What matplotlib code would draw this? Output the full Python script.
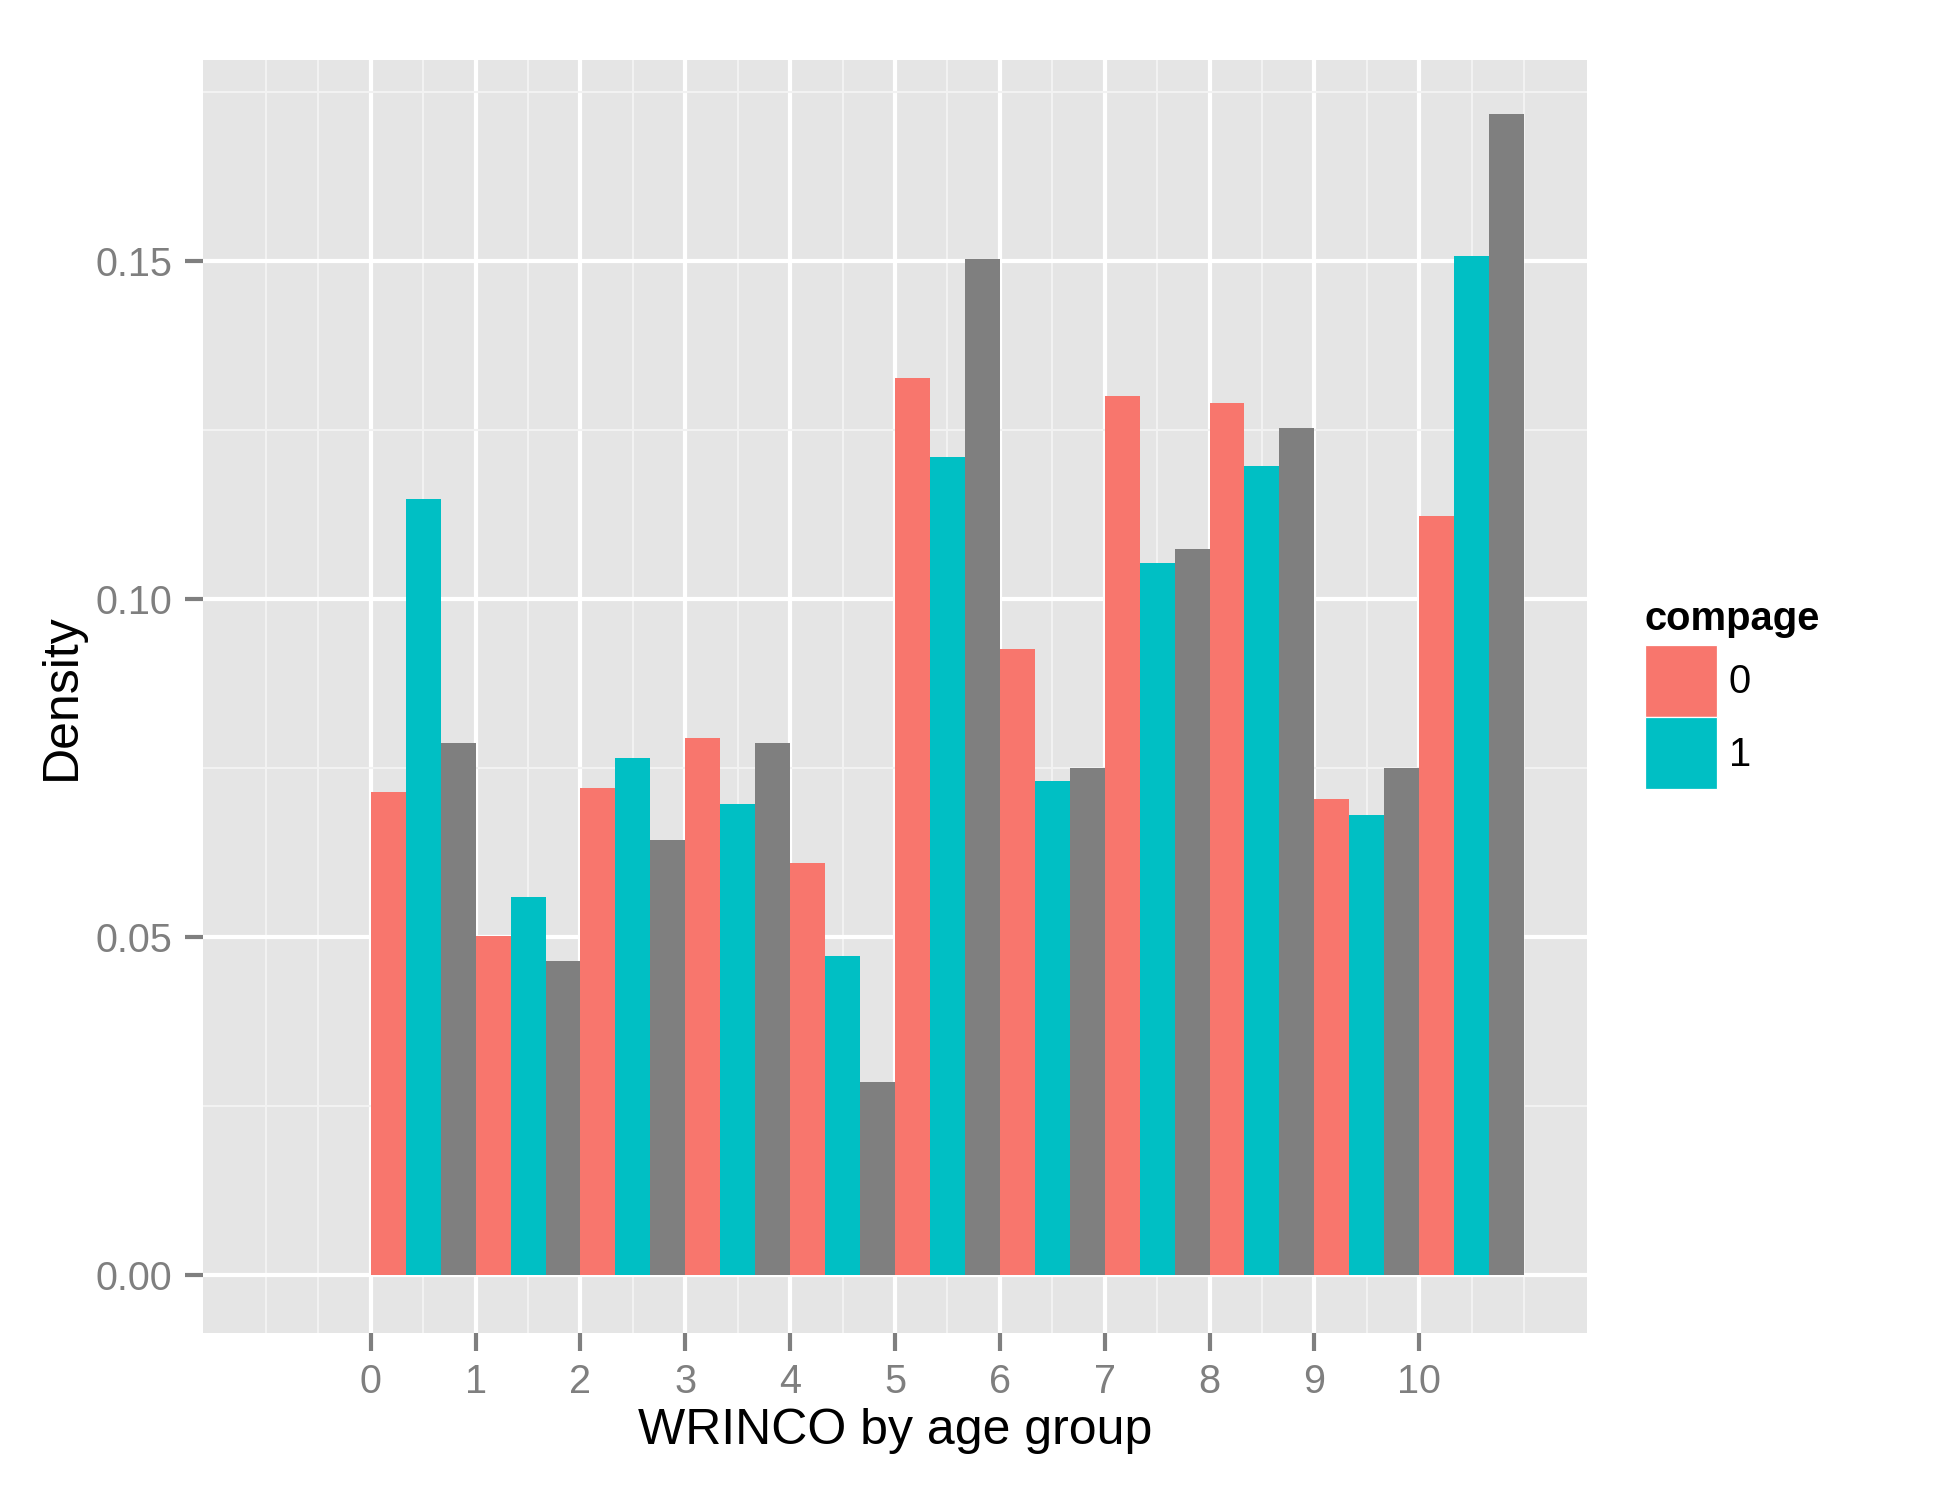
import matplotlib.pyplot as plt
from matplotlib.patches import Patch
import numpy as np

# histogram bins (left edges) and densities
bins = [0, 1, 2, 3, 4, 5, 6, 7, 8, 9, 10]
compage_0 = [0.0715, 0.0502, 0.0721, 0.0794, 0.0610, 0.1327, 0.0926, 0.1300, 0.1289, 0.0704, 0.1123]
compage_1 = [0.1147, 0.0559, 0.0765, 0.0697, 0.0472, 0.1210, 0.0730, 0.1053, 0.1197, 0.0680, 0.1507]
compage_na = [0.0787, 0.0465, 0.0643, 0.0787, 0.0285, 0.1502, 0.0750, 0.1074, 0.1252, 0.0750, 0.1717]

x_ticks = [0, 1, 2, 3, 4, 5, 6, 7, 8, 9, 10]
y_ticks = [0.00, 0.05, 0.10, 0.15]
y_tick_labels = ['0.00', '0.05', '0.10', '0.15']

plt.rcParams['font.family'] = ['Liberation Sans', 'DejaVu Sans']

fig = plt.figure(figsize=(1941 / 300, 1487 / 300), dpi=300)
ax = fig.add_axes([203 / 1941, 1 - 1333 / 1487, (1587 - 203) / 1941, (1333 - 60) / 1487])

ax.set_facecolor('#E5E5E5')
for s in ax.spines.values():
    s.set_visible(False)

# dodged bars, three per unit bin
w = 1 / 3
b = np.array(bins, dtype=float)
ax.bar(b, compage_0, width=w, align='edge', color='#F8766D', linewidth=0, zorder=3)
ax.bar(b + w, compage_1, width=w, align='edge', color='#00BFC4', linewidth=0, zorder=3)
ax.bar(b + 2 * w, compage_na, width=w, align='edge', color='#7F7F7F', linewidth=0, zorder=3)

ax.set_xlim(-1.6, 11.6)
ax.set_ylim(-0.00858, 0.1797)

ax.set_xticks(x_ticks)
ax.set_xticklabels([str(t) for t in x_ticks])
ax.set_xticks([-1, -0.5] + [i + 0.5 for i in range(11)] + [11], minor=True)
ax.set_yticks(y_ticks)
ax.set_yticklabels(y_tick_labels)
ax.set_yticks([0.025, 0.075, 0.125, 0.175], minor=True)

ax.grid(which='major', color='white', linewidth=1.0, zorder=1)
ax.grid(which='minor', color='#F2F2F2', linewidth=0.5, zorder=1)
ax.set_axisbelow(True)

ax.tick_params(which='major', length=4.3, width=1.0, color='#7F7F7F',
               labelcolor='#7F7F7F', labelsize=9.5, pad=3)
ax.tick_params(which='minor', length=0)

ax.set_xlabel('WRINCO by age group', fontsize=12, labelpad=1.5)
ax.set_ylabel('Density', fontsize=12, labelpad=2.6)

handles = [Patch(facecolor='#F8766D', edgecolor='white', linewidth=0.3, label='0'),
           Patch(facecolor='#00BFC4', edgecolor='white', linewidth=0.3, label='1')]
leg = fig.legend(handles=handles, title='compage', loc='upper left',
                 bbox_to_anchor=(1645 / 1941, 1 - 600 / 1487), frameon=False,
                 fontsize=9.6, title_fontsize=9.6, handlelength=1.8, handleheight=2.4,
                 handletextpad=0.3, labelspacing=0.0, borderpad=0, borderaxespad=0)
leg.get_title().set_fontweight('bold')
leg._legend_box.align = 'left'
leg._legend_box.sep = 1.7

fig.savefig('out.png', dpi=300)
